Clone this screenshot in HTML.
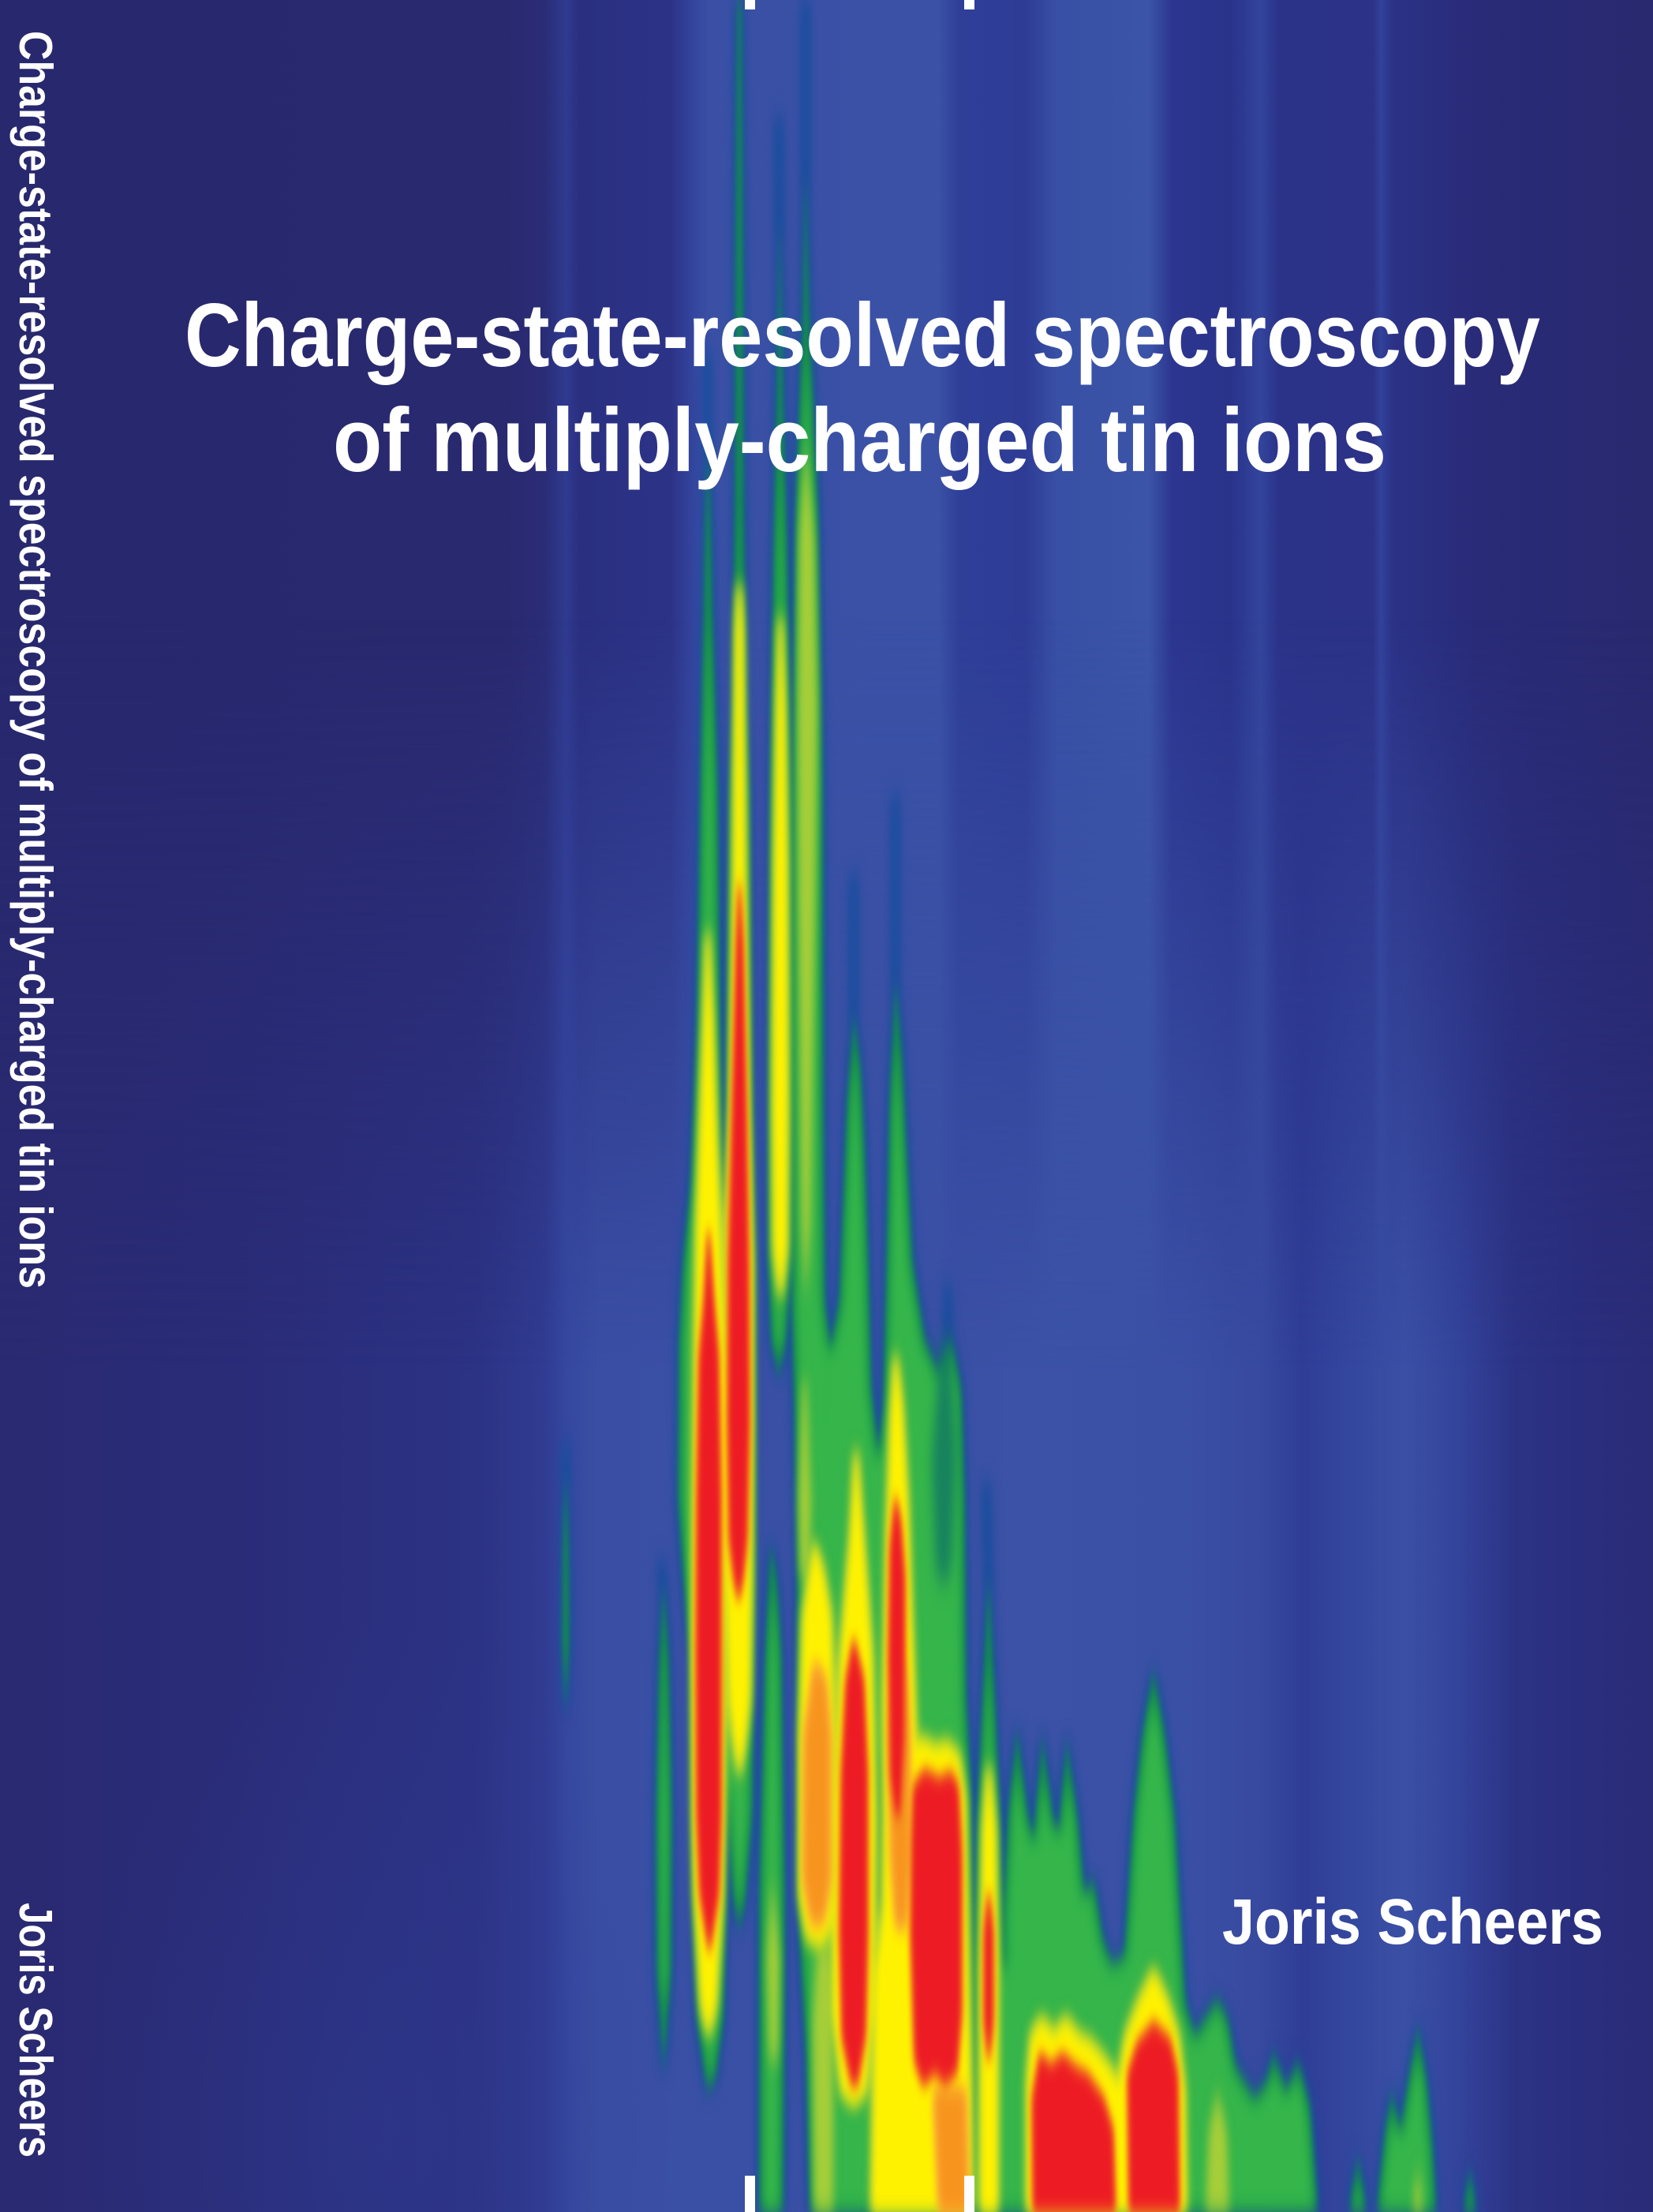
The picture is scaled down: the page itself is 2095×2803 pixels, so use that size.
<!DOCTYPE html>
<html>
<head>
<meta charset="utf-8">
<style>
html,body{margin:0;padding:0;background:#29296f;width:2095px;height:2803px;overflow:hidden;}
#wrap{width:2095px;height:2803px;overflow:hidden;position:relative;}
svg{display:block;}
</style>
</head>
<body>
<div id="wrap">
<svg xmlns="http://www.w3.org/2000/svg" width="2095" height="2803" viewBox="0 0 2095 2803" overflow="hidden">
<defs>
  <linearGradient id="bgTop" gradientUnits="userSpaceOnUse" x1="0" y1="0" x2="2095" y2="0">
    <stop offset="0" stop-color="#28286e"/>
    <stop offset="0.3055" stop-color="#29296f"/>
    <stop offset="0.3294" stop-color="#2a2c76"/>
    <stop offset="0.3422" stop-color="#2f3a90"/>
    <stop offset="0.3508" stop-color="#2a2f80"/>
    <stop offset="0.4057" stop-color="#2c3387"/>
    <stop offset="0.4200" stop-color="#34469f"/>
    <stop offset="0.4296" stop-color="#3a50a5"/>
    <stop offset="0.5680" stop-color="#3a51a6"/>
    <stop offset="0.5800" stop-color="#2f3f98"/>
    <stop offset="0.6205" stop-color="#2e3c96"/>
    <stop offset="0.6396" stop-color="#3850a5"/>
    <stop offset="0.6778" stop-color="#3a53a6"/>
    <stop offset="0.6950" stop-color="#3b54a7"/>
    <stop offset="0.7088" stop-color="#2c3690"/>
    <stop offset="0.7446" stop-color="#2a338a"/>
    <stop offset="0.7628" stop-color="#33449c"/>
    <stop offset="0.7733" stop-color="#2b3389"/>
    <stop offset="0.8305" stop-color="#2b3287"/>
    <stop offset="0.8353" stop-color="#32429a"/>
    <stop offset="0.8425" stop-color="#2b3287"/>
    <stop offset="0.8926" stop-color="#292b78"/>
    <stop offset="1" stop-color="#29296f"/>
  </linearGradient>
  <linearGradient id="bgBot" gradientUnits="userSpaceOnUse" x1="0" y1="0" x2="2095" y2="0">
    <stop offset="0" stop-color="#2a2a72"/>
    <stop offset="0.1432" stop-color="#2a2c78"/>
    <stop offset="0.2864" stop-color="#2c3284"/>
    <stop offset="0.3294" stop-color="#303c92"/>
    <stop offset="0.3437" stop-color="#3648a0"/>
    <stop offset="0.3628" stop-color="#3a4fa4"/>
    <stop offset="0.4200" stop-color="#3a50a5"/>
    <stop offset="0.5728" stop-color="#3a50a5"/>
    <stop offset="0.6205" stop-color="#3b52a6"/>
    <stop offset="0.7160" stop-color="#3a50a5"/>
    <stop offset="0.7637" stop-color="#37499f"/>
    <stop offset="0.7876" stop-color="#2f3d96"/>
    <stop offset="0.8115" stop-color="#33459d"/>
    <stop offset="0.8496" stop-color="#3a50a5"/>
    <stop offset="0.8831" stop-color="#33439b"/>
    <stop offset="0.9165" stop-color="#2c3385"/>
    <stop offset="0.9547" stop-color="#2a2e7e"/>
    <stop offset="1" stop-color="#2a2c78"/>
  </linearGradient>
  <linearGradient id="vmask" x1="0" y1="0" x2="0" y2="1">
    <stop offset="0" stop-color="#ffffff" stop-opacity="0"/>
    <stop offset="0.28" stop-color="#ffffff" stop-opacity="0"/>
    <stop offset="0.62" stop-color="#ffffff" stop-opacity="1"/>
    <stop offset="1" stop-color="#ffffff" stop-opacity="1"/>
  </linearGradient>
  <mask id="mBot" maskUnits="userSpaceOnUse" x="0" y="0" width="2095" height="2803">
    <rect x="0" y="0" width="2095" height="2803" fill="url(#vmask)"/>
  </mask>
  <radialGradient id="rl2" gradientUnits="userSpaceOnUse" cx="480" cy="2700" r="650" gradientTransform="translate(480 2700) scale(0.585 1) translate(-480 -2700)">
    <stop offset="0" stop-color="#2f3b92" stop-opacity="0.45"/>
    <stop offset="1" stop-color="#2f3b92" stop-opacity="0"/>
  </radialGradient>

  <filter id="fHd" filterUnits="userSpaceOnUse" x="0" y="0" width="2095" height="2803" color-interpolation-filters="sRGB"><feMorphology operator="dilate" radius="5 2"/><feGaussianBlur stdDeviation="5 14" edgeMode="duplicate"/></filter>
  <filter id="fG" filterUnits="userSpaceOnUse" x="0" y="0" width="2095" height="2803" color-interpolation-filters="sRGB"><feGaussianBlur stdDeviation="3.5 12" edgeMode="duplicate"/></filter>
  <filter id="fG2" filterUnits="userSpaceOnUse" x="0" y="0" width="2095" height="2803" color-interpolation-filters="sRGB"><feMorphology operator="erode" radius="5 3"/><feGaussianBlur stdDeviation="5 12" edgeMode="duplicate"/></filter>
  <filter id="fT" filterUnits="userSpaceOnUse" x="0" y="0" width="2095" height="2803" color-interpolation-filters="sRGB"><feGaussianBlur stdDeviation="6 16" edgeMode="duplicate"/></filter>
  <filter id="fYG" filterUnits="userSpaceOnUse" x="0" y="0" width="2095" height="2803" color-interpolation-filters="sRGB"><feGaussianBlur stdDeviation="5 14" edgeMode="duplicate"/></filter>
  <filter id="fYd" filterUnits="userSpaceOnUse" x="0" y="0" width="2095" height="2803" color-interpolation-filters="sRGB"><feMorphology operator="dilate" radius="5 4"/><feGaussianBlur stdDeviation="4.5 12" edgeMode="duplicate"/></filter>
  <filter id="fY" filterUnits="userSpaceOnUse" x="0" y="0" width="2095" height="2803" color-interpolation-filters="sRGB"><feGaussianBlur stdDeviation="4 12" edgeMode="duplicate"/></filter>
  <filter id="fOd" filterUnits="userSpaceOnUse" x="0" y="0" width="2095" height="2803" color-interpolation-filters="sRGB"><feMorphology operator="dilate" radius="3 3"/><feGaussianBlur stdDeviation="4.5 12" edgeMode="duplicate"/></filter>
  <filter id="fO" filterUnits="userSpaceOnUse" x="0" y="0" width="2095" height="2803" color-interpolation-filters="sRGB"><feGaussianBlur stdDeviation="4.5 12" edgeMode="duplicate"/></filter>
  <filter id="fRd" filterUnits="userSpaceOnUse" x="0" y="0" width="2095" height="2803" color-interpolation-filters="sRGB"><feMorphology operator="dilate" radius="3 3"/><feGaussianBlur stdDeviation="3.5 10" edgeMode="duplicate"/></filter>
  <filter id="fR" filterUnits="userSpaceOnUse" x="0" y="0" width="2095" height="2803" color-interpolation-filters="sRGB"><feGaussianBlur stdDeviation="3.5 10" edgeMode="duplicate"/></filter>

  <g id="G">
    <polygon points="935,0 933,300 932,640 929,900 925,1000 921,1400 916,1600 917,1800 918,2000 920,2200 922,2300 930,2410 937,2440 944,2410 953,2300 954,2200 956,2000 956,1800 956,1600 953,1400 949,1000 945,900 942,640 941,300 939,0"/>
    <polygon points="897,560 894,680 892,800 888,1000 884,1300 876,1500 866,1600 861,1700 860,1900 866,1990 875,2100 877,2300 878,2400 884,2560 896,2645 906,2635 916,2560 920,2400 921,2300 922,2100 922,1900 921,1700 916,1560 912,1300 909,1000 903,800 900,660"/>
    <polygon points="988,280 985,500 981,700 977,1000 975,1300 974,1600 978,1700 987,1740 996,1700 1002,1600 1003,1300 1002,1000 997,700 992,500"/>
    <polygon points="1021,220 1018,400 1009,640 1005,1000 1004,1300 1004,1650 1008,1800 1011,2000 1011,2400 1022,2600 1027,2803 1060,2803 1055,2400 1060,2000 1062,1800 1054,1720 1045,1650 1043,1400 1042,1000 1036,640 1025,400"/>
    <polygon points="1082,1290 1074,1400 1068,1550 1064,1650 1050,1720 1046,1800 1046,2000 1050,2400 1050,2803 1118,2803 1114,2420 1114,2100 1114,1850 1104,1760 1100,1600 1095,1450 1090,1350"/>
    <polygon points="1135,1245 1128,1400 1124,1600 1120,1780 1112,1850 1112,2000 1114,2200 1116,2420 1108,2500 1100,2803 1234,2803 1234,2500 1230,2260 1224,2150 1222,1900 1218,1760 1205,1700 1190,1740 1172,1700 1156,1600 1148,1450 1142,1330"/>
    <polygon points="1253,2000 1246,2150 1239,2300 1235,2500 1234,2803 1274,2803 1272,2500 1267,2300 1260,2150"/>
    <polygon points="1272,2803 1272,2420 1278,2300 1289,2196 1302,2300 1310,2330 1321,2205 1335,2310 1342,2320 1352,2210 1366,2310 1374,2400 1386,2384 1398,2460 1410,2490 1425,2480 1437,2300 1448,2200 1462,2120 1476,2200 1488,2300 1495,2420 1502,2540 1515,2580 1530,2555 1543,2535 1556,2560 1566,2620 1590,2660 1605,2640 1614,2604 1630,2650 1645,2614 1660,2670 1670,2803"/>
    <polygon points="1710,2803 1721,2737 1732,2803"/>
    <polygon points="1745,2803 1756,2700 1764,2655 1775,2700 1785,2640 1797,2573 1808,2640 1815,2720 1820,2803"/>
    <polygon points="1855,2803 1863,2753 1871,2803"/>
    <polygon points="841,2010 836,2100 832,2300 833,2500 841,2620 850,2500 851,2300 847,2100"/>
    <polygon points="717,1870 714,1960 713,2080 717,2165 721,2080 720,1960"/>
    <polygon points="977,1960 970,2100 963,2400 963,2803 992,2803 994,2400 990,2100 984,2000"/>
  </g>

  <g id="YG">
    <polygon points="1021,560 1013,680 1011,900 1012,1150 1014,1350 1016,1550 1021,1650 1027,1550 1030,1350 1033,1150 1036,900 1032,680"/>
    <polygon points="1017,1750 1012,1900 1014,2000 1026,2000 1028,1900 1022,1750"/>
    <polygon points="1032,2803 1030,2560 1036,2470 1050,2460 1056,2500 1056,2803"/>
    <polygon points="979,2380 972,2480 975,2600 980,2620 986,2600 988,2480"/>
    <polygon points="1528,2803 1532,2700 1543,2650 1555,2700 1558,2803"/>
    <polygon points="1790,2803 1797,2745 1804,2803"/>
  </g>

  <g id="Y">
    <polygon points="937,740 934,800 932,1000 930,1200 927,1400 920,1600 920,1800 921,2000 925,2150 930,2200 937,2245 944,2200 949,2150 951,2000 952,1800 952,1600 947,1400 944,1200 942,1000 940,800"/>
    <polygon points="897,1180 893,1300 888,1450 884,1560 882,1700 880,1900 879,2100 880,2300 882,2400 890,2540 898,2575 906,2540 914,2400 916,2300 917,2100 920,1900 919,1750 912,1560 907,1450 902,1300"/>
    <polygon points="989,780 986,900 983,1100 981,1400 982,1580 989,1640 996,1580 997,1400 996,1100 993,900"/>
    <polygon points="1032,1960 1019,2050 1015,2200 1015,2400 1024,2455 1040,2465 1054,2440 1057,2200 1052,2050 1042,1990"/>
    <polygon points="1085,1840 1079,1950 1066,2100 1058,2300 1056,2550 1068,2650 1082,2665 1096,2650 1106,2550 1108,2300 1104,2100 1093,1950"/>
    <polygon points="1135,1720 1130,1800 1125,1950 1121,2150 1122,2300 1120,2420 1110,2500 1106,2803 1230,2803 1229,2650 1226,2500 1222,2280 1214,2225 1200,2210 1185,2215 1170,2205 1160,2210 1154,2050 1149,1900 1142,1780"/>
    <polygon points="1253,2240 1247,2320 1244,2500 1244,2803 1263,2803 1263,2500 1260,2320"/>
    <polygon points="1303,2803 1303,2640 1308,2580 1320,2560 1336,2578 1351,2560 1366,2580 1381,2588 1400,2612 1418,2640 1428,2580 1445,2535 1462,2500 1478,2535 1492,2580 1500,2650 1502,2803"/>
  </g>

  <g id="O">
    <polygon points="1033,2110 1021,2200 1020,2380 1030,2435 1042,2435 1051,2380 1051,2200 1045,2130"/>
    <polygon points="1137,2100 1129,2200 1131,2350 1137,2440 1147,2440 1152,2350 1151,2200 1146,2120"/>
    <polygon points="1185,2650 1222,2650 1226,2803 1192,2803"/>
  </g>

  <g id="R">
    <polygon points="937,1120 934,1200 929,1400 924,1600 923,1800 925,1950 931,2000 936,2025 941,2000 946,1950 949,1800 948,1600 945,1400 941,1200"/>
    <polygon points="898,1560 893,1650 887,1720 884,1900 883,2100 884,2300 888,2400 899,2470 910,2400 913,2300 913,2100 913,1900 910,1720 904,1650"/>
    <polygon points="1082,2080 1073,2130 1067,2250 1065,2450 1068,2580 1080,2640 1086,2640 1096,2580 1099,2450 1099,2250 1094,2130"/>
    <polygon points="1135,1900 1129,1960 1127,2100 1129,2250 1135,2300 1141,2300 1146,2200 1146,2000 1141,1930"/>
    <polygon points="1158,2265 1172,2245 1190,2255 1205,2248 1214,2265 1218,2350 1218,2550 1212,2625 1198,2640 1185,2625 1170,2640 1160,2610 1155,2450 1156,2330"/>
    <polygon points="1253,2400 1248,2450 1248,2560 1253,2610 1258,2560 1258,2450"/>
    <polygon points="1310,2803 1309,2660 1318,2605 1332,2618 1347,2605 1362,2620 1378,2630 1398,2660 1410,2700 1413,2803"/>
    <polygon points="1432,2803 1430,2630 1442,2590 1462,2565 1482,2585 1492,2630 1494,2803"/>
  </g>
</defs>

<!-- background -->
<rect x="0" y="0" width="2095" height="2803" fill="url(#bgTop)"/>
<rect x="0" y="0" width="2095" height="2803" fill="url(#bgBot)" mask="url(#mBot)"/>
<rect x="100" y="2050" width="760" height="753" fill="url(#rl2)"/>

<!-- spectrum plume -->
<g filter="url(#fHd)">
  <use href="#G" fill="#1b4d9e"/>
  <path d="M1021,0 L1021,240 M987,150 L988,300 M1082,1110 L1082,1300 M1135,1010 L1135,1260 M1201,1630 L1203,1900 M1250,1880 L1253,2010 M838,1980 L841,2020 M717,1830 L717,1880 M897,450 L897,580" stroke="#1b4d9e" stroke-width="4" fill="none"/>
</g>
<g filter="url(#fG)">
  <use href="#G" fill="#13904a"/>
</g>
<g filter="url(#fG2)">
  <use href="#G" fill="#35b54a"/>
</g>
<g filter="url(#fT)">
  <polygon points="1192,1700 1181,1850 1186,1990 1196,2010 1206,1990 1212,1850 1204,1700" fill="#127a62" opacity="0.85"/>
</g>
<g filter="url(#fYG)">
  <use href="#YG" fill="#a6ce39"/>
</g>
<g filter="url(#fYd)">
  <use href="#Y" fill="#b3d335"/>
</g>
<g filter="url(#fY)">
  <use href="#Y" fill="#fff200"/>
</g>
<g filter="url(#fOd)">
  <use href="#O" fill="#fbb040"/>
</g>
<g filter="url(#fO)">
  <use href="#O" fill="#f7941d"/>
</g>
<g filter="url(#fRd)">
  <use href="#R" fill="#f7941d"/>
</g>
<g filter="url(#fR)">
  <use href="#R" fill="#ed1c24"/>
</g>

<!-- tick marks -->
<rect x="944" y="0" width="13" height="12" fill="#ffffff"/>
<rect x="1222" y="0" width="13" height="12" fill="#ffffff"/>
<rect x="944" y="2757" width="13" height="46" fill="#ffffff"/>
<rect x="1222" y="2757" width="13" height="46" fill="#ffffff"/>

<!-- front title -->
<g font-family="'Liberation Sans', Arial, sans-serif" font-weight="700" fill="#ffffff">
  <text x="234" y="464" font-size="114" textLength="1718" lengthAdjust="spacingAndGlyphs">Charge-state-resolved spectroscopy</text>
  <text x="422" y="597" font-size="114" textLength="1335" lengthAdjust="spacingAndGlyphs">of multiply-charged tin ions</text>
  <text x="1549" y="2463" font-size="82" textLength="483" lengthAdjust="spacingAndGlyphs">Joris Scheers</text>

  <!-- spine -->
  <text transform="translate(25,39) rotate(90)" x="0" y="0" font-size="59" textLength="1594" lengthAdjust="spacingAndGlyphs">Charge-state-resolved spectroscopy of multiply-charged tin ions</text>
  <text transform="translate(25,2411) rotate(90)" x="0" y="0" font-size="59" textLength="323" lengthAdjust="spacingAndGlyphs">Joris Scheers</text>
</g>
</svg>
</div>
</body>
</html>
